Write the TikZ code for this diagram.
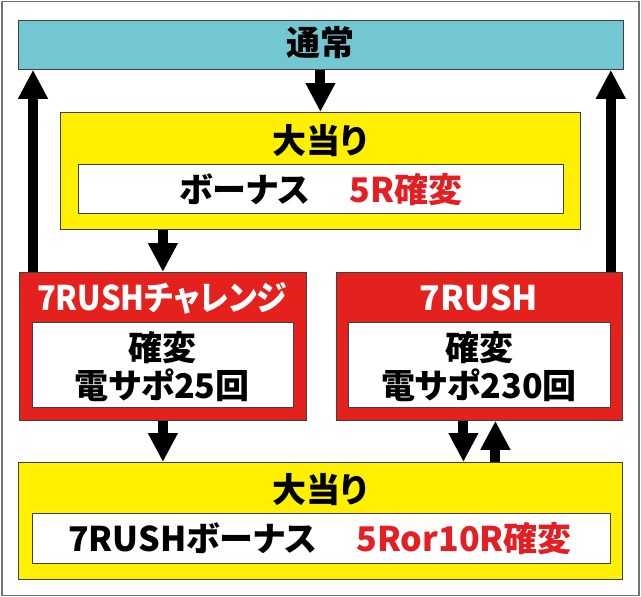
\documentclass[tikz,border=0pt]{standalone}
\usepackage{fontspec}
\usepackage{graphicx}
\usetikzlibrary{arrows.meta}
\newfontfamily\jp[RawFeature=+palt]{Noto Sans CJK JP Black}
\definecolor{tealc}{RGB}{114,199,210}
\definecolor{yelc}{RGB}{255,240,0}
\definecolor{redc}{RGB}{229,33,30}
\definecolor{redtxt}{RGB}{228,30,35}
\begin{document}
\begin{tikzpicture}[x=1pt,y=-1pt,
  box/.style={draw=black!75, line width=0.8pt, inner sep=0, anchor=north west},
  arr/.style={line width=10pt, -{Triangle[width=28pt,length=29pt]}},
  label/.style={font=\jp\fontsize{34}{34}\selectfont, anchor=base, inner sep=0},
]
\useasboundingbox (0,0) rectangle (641,597);
\draw[black!55, line width=1.5pt] (2,1.5) rectangle (639,595.5);
% boxes
\node[box, fill=tealc, minimum width=605pt, minimum height=49pt] (teal) at (18,20) {};
\node[box, fill=yelc, minimum width=520pt, minimum height=117pt] (y1) at (60,112) {};
\node[box, fill=white, minimum width=485pt, minimum height=49pt] (y1in) at (78,164) {};
\node[box, fill=redc, minimum width=287pt, minimum height=148pt] (r1) at (19,272) {};
\node[box, fill=white, minimum width=261pt, minimum height=85pt] (r1in) at (32,322) {};
\node[box, fill=redc, minimum width=286pt, minimum height=148pt] (r2) at (336,272) {};
\node[box, fill=white, minimum width=262pt, minimum height=85pt] (r2in) at (348,322) {};
\node[box, fill=yelc, minimum width=604pt, minimum height=117pt] (y2) at (18,462) {};
\node[box, fill=white, minimum width=578pt, minimum height=50pt] (y2in) at (32,513) {};
% arrows
\draw[arr] (y1.north |- teal.south) -- (y1.north);
\draw[arr] (r1.north |- y1.south) -- (r1.north);
\coordinate (a3) at ([xshift=14pt]r1.north west);
\draw[arr] (a3) -- (a3 |- teal.south);
\coordinate (a4) at ([xshift=-12pt]r2.north east);
\draw[arr] (a4) -- (a4 |- teal.south);
\draw[arr] (r1.south) -- (r1.south |- y2.north);
\coordinate (a6) at ([xshift=-16pt]r2.south);
\draw[arr] (a6) -- (a6 |- y2.north);
\coordinate (a7) at ([xshift=16pt]r2.south);
\draw[arr] (a7 |- y2.north) -- (a7);
% texts
\node[label] (t0) at (320,56) {通常};
\node[label] (t1) at (320,153) {大当り};
\node[label] (t2) at (321,202) {ボーナス\hspace{40pt}\textcolor{redtxt}{5R確変}};
\node[label, text=white] (t3) at (162,310) {\scalebox{0.91}[1]{7RUSHチャレンジ}};
\node[label] (t4) at (162,360) {確変};
\node[label] (t5) at (162,398) {電サポ25回};
\node[label, text=white] (t6) at (479,310) {7RUSH};
\node[label] (t7) at (479,360) {確変};
\node[label] (t8) at (479,398) {電サポ230回};
\node[label] (t9) at (320,502) {大当り};
\node[label] (t10) at (320,551) {7RUSHボーナス\hspace{40pt}\textcolor{redtxt}{5Ror10R確変}};
\end{tikzpicture}
\end{document}
